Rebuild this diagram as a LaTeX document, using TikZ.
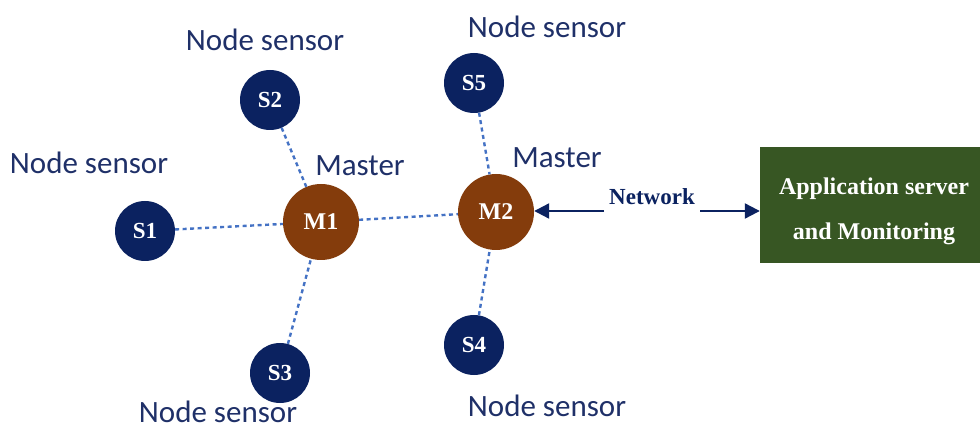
\documentclass[tikz,border=0pt]{standalone}
\usepackage{fontspec}
\setmainfont{Liberation Serif}
\newfontfamily\lblfont{Carlito}
\usetikzlibrary{arrows.meta}
\definecolor{navy}{HTML}{0B2260}
\definecolor{brownm}{HTML}{843C0C}
\definecolor{greenbox}{HTML}{375623}
\definecolor{linkblue}{HTML}{4472C4}
\definecolor{lbl}{HTML}{1F3068}
\begin{document}
\begin{tikzpicture}[x=1pt,y=-1pt,
  sensor/.style={circle,fill=navy,minimum size=60pt,inner sep=0pt,text=white,font=\bfseries\fontsize{23}{26}\selectfont},
  master/.style={circle,fill=brownm,minimum size=76pt,inner sep=0pt,text=white,font=\bfseries\fontsize{24}{26}\selectfont},
  lab/.style={text=lbl,font=\lblfont\fontsize{31}{34}\selectfont,inner sep=0pt},
  link/.style={draw=linkblue,line width=2.4pt,dash pattern=on 4pt off 3.5pt},
  net/.style={draw=navy,line width=2.2pt,-{Triangle[length=15pt,width=15pt]}}]
\useasboundingbox (0,0) rectangle (980,430);
\node[sensor] (s1) at (145,231) {S1};
\node[sensor] (s2) at (270,100) {S2};
\node[sensor] (s3) at (280,373) {S3};
\node[sensor] (s4) at (474,345) {S4};
\node[sensor] (s5) at (474,83) {S5};
\node[master] (m1) at (321,222) {M1};
\node[master] (m2) at (496,212) {M2};
\node[fill=greenbox,minimum width=220pt,minimum height=116pt,inner sep=0pt] (app) at (870,205) {};
\node[text=white,align=center,inner sep=0pt,font=\bfseries\fontsize{24}{45}\selectfont] (apptext) at (874,211) {Application server\\and Monitoring};
\draw[link] (s1) -- (m1);
\draw[link] (s2) -- (m1);
\draw[link] (s3) -- (m1);
\draw[link] (m1) -- (m2);
\draw[link] (s5) -- (m2);
\draw[link] (s4) -- (m2);
\node[text=navy,font=\bfseries\fontsize{23}{26}\selectfont,inner sep=0pt] (nw) at (652,197) {Network};
\coordinate (a1) at (604,211);
\coordinate (a2) at (700,211);
\draw[net] (a1) -- (a1 -| m2.east);
\draw[net] (a2) -- (a2 -| app.west);
\node[lab] (l1) at (89,163) {Node sensor};
\node[lab] (l2) at (265,40) {Node sensor};
\node[lab] (l3) at (218,412) {Node sensor};
\node[lab] (l4) at (547,406) {Node sensor};
\node[lab] (l5) at (547,27) {Node sensor};
\node[lab] (lm1) at (360,166) {Master};
\node[lab] (lm2) at (557,158) {Master};
\end{tikzpicture}
\end{document}
